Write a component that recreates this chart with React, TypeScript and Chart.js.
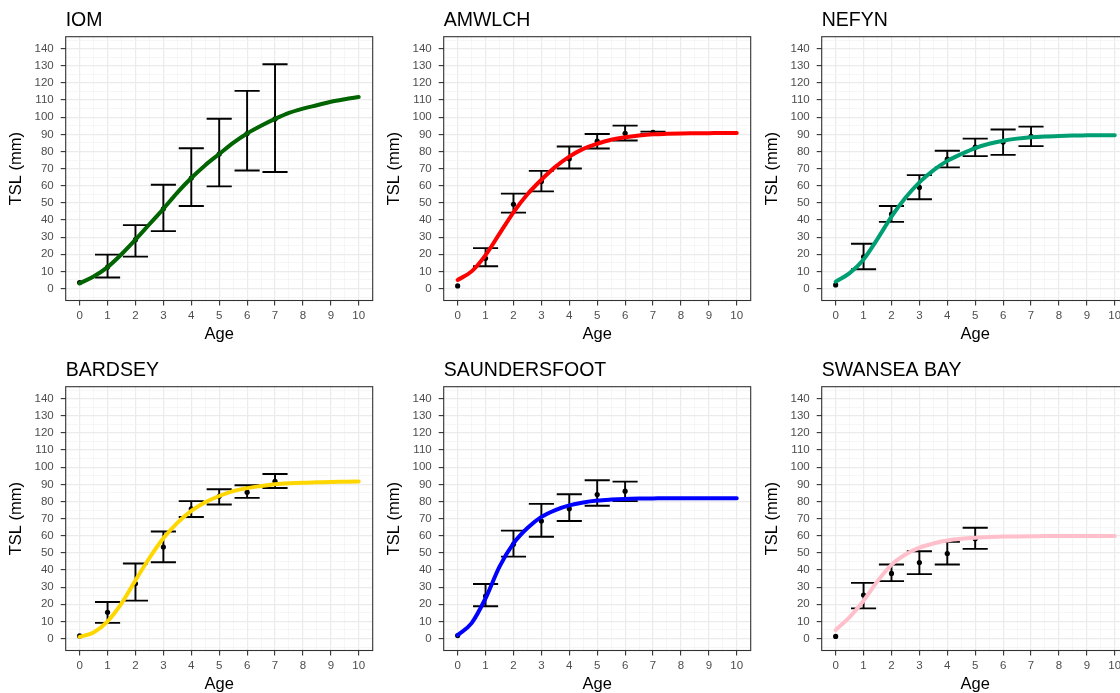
import React, { useEffect, useRef } from 'react';
import { Chart, registerables } from 'chart.js';

Chart.register(...registerables);

const FONT = '"Liberation Sans", Arial, Helvetica, sans-serif';

const curveAges = [0, 0.5, 1, 1.5, 2, 2.5, 3, 3.5, 4, 4.5, 5, 5.5, 6, 6.5, 7, 7.5, 8, 8.5, 9, 9.5, 10];

// IOM
const iomAges = [0, 1, 2, 3, 4, 5, 6, 7];
const iomMeans = [3.5, 12.5, 28.5, 46.5, 64.5, 78.5, 90.5, 99];
const iomLower = [null, 6.4, 18.6, 33.5, 48.2, 59.6, 68.9, 68];
const iomUpper = [null, 19.8, 37, 60.6, 81.9, 99.1, 115.4, 130.9];
const iomCurve = [3, 7, 12.5, 20, 28.5, 37.5, 46.5, 56, 64.5, 72, 78.5, 85, 90.5, 95, 99, 102.5, 105, 107, 109, 110.5, 111.8];

// AMWLCH
const amwlchAges = [0, 1, 2, 3, 4, 5, 6, 7];
const amwlchMeans = [1.5, 17.6, 49.2, 62.5, 75.7, 86, 90.6, 91.2];
const amwlchLower = [null, 13, 44.3, 56.7, 70.1, 81.7, 86.4, 90.2];
const amwlchUpper = [null, 23.6, 55.4, 68.7, 82.9, 90.2, 95.1, 91.6];
const amwlchCurve = [5, 10, 19.5, 32, 44.5, 55, 63.5, 71, 77, 81.5, 84.5, 86.8, 88.3, 89.3, 90, 90.3, 90.5, 90.6, 90.7, 90.8, 90.8];

// NEFYN
const nefynAges = [0, 1, 2, 3, 4, 5, 6, 7];
const nefynMeans = [2.1, 18.5, 43.5, 59, 75.5, 82.5, 85.5, 88.8];
const nefynLower = [null, 11.2, 38.9, 52.1, 70.7, 77.3, 78, 83.1];
const nefynUpper = [null, 26.1, 48.2, 66.2, 80.4, 87.5, 92.8, 94.5];
const nefynCurve = [4, 9, 17, 29, 42, 53, 62, 69, 74.5, 78.5, 82, 84.5, 86.3, 87.5, 88.3, 88.8, 89.1, 89.3, 89.4, 89.5, 89.5];

// BARDSEY
const bardseyAges = [0, 1, 2, 3, 4, 5, 6, 7];
const bardseyMeans = [1.5, 15.3, 32.1, 53.4, 75.7, 83, 85.4, 91.8];
const bardseyLower = [null, 9.1, 22.1, 44.5, 70.9, 78.2, 82.1, 87.9];
const bardseyUpper = [null, 21.3, 43.8, 62.5, 80.2, 87.1, 89.5, 96];
const bardseyCurve = [1, 3.5, 10, 20.5, 34, 47, 58.5, 67.5, 74.5, 79.5, 83.2, 86, 87.8, 89, 90, 90.6, 91, 91.2, 91.4, 91.5, 91.6];

// SAUNDERSFOOT
const saundersAges = [0, 1, 2, 3, 4, 5, 6];
const saundersMeans = [1.7, 24.8, 55, 68.6, 75.7, 84, 86];
const saundersLower = [null, 18.8, 47.8, 59.4, 68.6, 77.5, 80.2];
const saundersUpper = [null, 31.8, 63, 78.6, 84.2, 92.4, 91.6];
const saundersCurve = [2, 9, 23.5, 42, 55.5, 64.5, 71, 75, 77.7, 79.4, 80.5, 81.1, 81.5, 81.7, 81.8, 81.9, 81.9, 81.9, 81.9, 81.9, 81.9];

// SWANSEA BAY
const swanseaAges = [0, 1, 2, 3, 4, 5];
const swanseaMeans = [1.2, 25.4, 38, 44.3, 49.6, 58.3];
const swanseaLower = [null, 17.6, 33.5, 37.6, 43.2, 52.3];
const swanseaUpper = [null, 32.5, 43.2, 50.9, 56.4, 64.7];
const swanseaCurve = [5, 12.5, 22, 33.5, 43, 49, 53, 55.5, 57.2, 58.2, 58.8, 59.2, 59.5, 59.6, 59.7, 59.8, 59.8, 59.8, 59.8, 59.8, 59.8];

const panelTitles = ['IOM', 'AMWLCH', 'NEFYN', 'BARDSEY', 'SAUNDERSFOOT', 'SWANSEA BAY'];
const panelColors = ['#006400', '#FF0000', '#009E73', '#FFD700', '#0000FF', '#FFC0CB'];

const xAxisTitle = 'Age';
const yAxisTitle = 'TSL (mm)';

const panels = [
  { ages: iomAges, means: iomMeans, lower: iomLower, upper: iomUpper, curve: iomCurve },
  { ages: amwlchAges, means: amwlchMeans, lower: amwlchLower, upper: amwlchUpper, curve: amwlchCurve },
  { ages: nefynAges, means: nefynMeans, lower: nefynLower, upper: nefynUpper, curve: nefynCurve },
  { ages: bardseyAges, means: bardseyMeans, lower: bardseyLower, upper: bardseyUpper, curve: bardseyCurve },
  { ages: saundersAges, means: saundersMeans, lower: saundersLower, upper: saundersUpper, curve: saundersCurve },
  { ages: swanseaAges, means: swanseaMeans, lower: swanseaLower, upper: swanseaUpper, curve: swanseaCurve },
];

const PANEL_W = 378;
const PANEL_H = 350;

const isMult = (v: number, m: number) => Math.abs(v / m - Math.round(v / m)) < 1e-6;

function Panel({ index }: { index: number }) {
  const ref = useRef<HTMLCanvasElement>(null);
  useEffect(() => {
    const p = panels[index];
    const errorBars = {
      id: 'errorBars',
      beforeDatasetsDraw(chart: any) {
        const { ctx, scales } = chart;
        const xs = scales.x;
        const ys = scales.y;
        ctx.save();
        ctx.strokeStyle = '#000000';
        ctx.lineWidth = 1.9;
        ctx.lineCap = 'butt';
        p.ages.forEach((a: number, i: number) => {
          const lo = p.lower[i];
          const hi = p.upper[i];
          if (lo == null || hi == null) return;
          const xc = xs.getPixelForValue(a);
          const xl = xs.getPixelForValue(a - 0.45);
          const xr = xs.getPixelForValue(a + 0.45);
          const yl = ys.getPixelForValue(lo);
          const yh = ys.getPixelForValue(hi);
          ctx.beginPath();
          ctx.moveTo(xc, yl);
          ctx.lineTo(xc, yh);
          ctx.moveTo(xl, yl);
          ctx.lineTo(xr, yl);
          ctx.moveTo(xl, yh);
          ctx.lineTo(xr, yh);
          ctx.stroke();
        });
        ctx.restore();
      },
    };
    const frame = {
      id: 'frame',
      afterDatasetsDraw(chart: any) {
        const { ctx, chartArea } = chart;
        ctx.save();
        ctx.strokeStyle = '#333333';
        ctx.lineWidth = 1.1;
        ctx.strokeRect(chartArea.left, chartArea.top, chartArea.right - chartArea.left, chartArea.bottom - chartArea.top);
        ctx.restore();
      },
    };
    const chart = new Chart(ref.current as HTMLCanvasElement, {
      type: 'scatter',
      data: {
        datasets: [
          {
            type: 'scatter',
            data: curveAges.map((a, i) => ({ x: a, y: p.curve[i] })),
            showLine: true,
            borderColor: panelColors[index],
            backgroundColor: panelColors[index],
            borderWidth: 4,
            borderCapStyle: 'round',
            borderJoinStyle: 'round',
            pointRadius: 0,
            cubicInterpolationMode: 'monotone',
            order: 0,
          } as any,
          {
            type: 'scatter',
            data: p.ages.map((a: number, i: number) => ({ x: a, y: p.means[i] })),
            pointRadius: 2.6,
            pointBackgroundColor: '#000000',
            pointBorderWidth: 0,
            order: 1,
          } as any,
        ],
      },
      options: {
        animation: false,
        responsive: false,
        devicePixelRatio: 1,
        layout: { padding: { left: 0, right: 5.3, top: 0, bottom: 0 } },
        plugins: {
          legend: { display: false },
          tooltip: { enabled: false },
          title: {
            display: true,
            text: panelTitles[index],
            align: 'start',
            fullSize: false,
            color: '#000000',
            font: { family: FONT, size: 19.5, weight: 'normal' },
            padding: { top: 9, bottom: 4.3 },
          },
        },
        scales: {
          x: {
            type: 'linear',
            min: -0.5,
            max: 10.5,
            border: { display: false },
            grid: {
              color: (c: any) => (isMult(c.tick.value, 1) ? '#EBEBEB' : '#F2F2F2'),
              lineWidth: (c: any) => (isMult(c.tick.value, 1) ? 1.2 : 0.7),
              tickLength: 5,
              tickWidth: 1.1,
              tickColor: (c: any) =>
                isMult(c.tick.value, 1) && c.tick.value >= 0 && c.tick.value <= 10 ? '#333333' : 'rgba(0,0,0,0)',
            },
            ticks: {
              stepSize: 0.5,
              autoSkip: false,
              maxTicksLimit: 100,
              maxRotation: 0,
              minRotation: 0,
              padding: 3.5,
              color: '#4D4D4D',
              font: { family: FONT, size: 11.5 },
              callback: (v: any) => (isMult(v, 1) && v >= 0 && v <= 10 ? String(Math.round(v)) : ''),
            },
            title: {
              display: true,
              text: xAxisTitle,
              color: '#000000',
              font: { family: FONT, size: 16.5 },
              padding: { top: 0, bottom: 5.2 },
            },
            afterFit: (s: any) => {
              s.height = PANEL_H - 300.5;
            },
          },
          y: {
            type: 'linear',
            min: -7,
            max: 147,
            border: { display: false },
            grid: {
              color: (c: any) => (isMult(c.tick.value, 10) ? '#EBEBEB' : '#F2F2F2'),
              lineWidth: (c: any) => (isMult(c.tick.value, 10) ? 1.2 : 0.7),
              tickLength: 5,
              tickWidth: 1.1,
              tickColor: (c: any) =>
                isMult(c.tick.value, 10) && c.tick.value >= 0 && c.tick.value <= 140 ? '#333333' : 'rgba(0,0,0,0)',
            },
            ticks: {
              stepSize: 5,
              includeBounds: false,
              autoSkip: false,
              maxTicksLimit: 100,
              padding: 7,
              color: '#4D4D4D',
              font: { family: FONT, size: 11.5 },
              callback: (v: any) => (isMult(v, 10) && v >= 0 && v <= 140 ? String(Math.round(v)) : ''),
            },
            title: {
              display: true,
              text: yAxisTitle,
              color: '#000000',
              font: { family: FONT, size: 16.5 },
              padding: { top: 6.8, bottom: 0 },
            },
            afterFit: (s: any) => {
              s.width = 65.7;
            },
          },
        },
      },
      plugins: [errorBars, frame],
    } as any);
    return () => chart.destroy();
  }, [index]);
  const col = index % 3;
  const row = Math.floor(index / 3);
  return (
    <canvas
      ref={ref}
      width={PANEL_W}
      height={PANEL_H}
      style={{ position: 'absolute', left: col * PANEL_W, top: row * PANEL_H, display: 'block' }}
    />
  );
}

export default function App() {
  return (
    <div
      style={{
        position: 'fixed',
        left: 0,
        top: 0,
        width: 1120,
        height: 693,
        overflow: 'hidden',
        background: '#FFFFFF',
      }}
    >
      {panels.map((_, i) => (
        <Panel key={i} index={i} />
      ))}
    </div>
  );
}
